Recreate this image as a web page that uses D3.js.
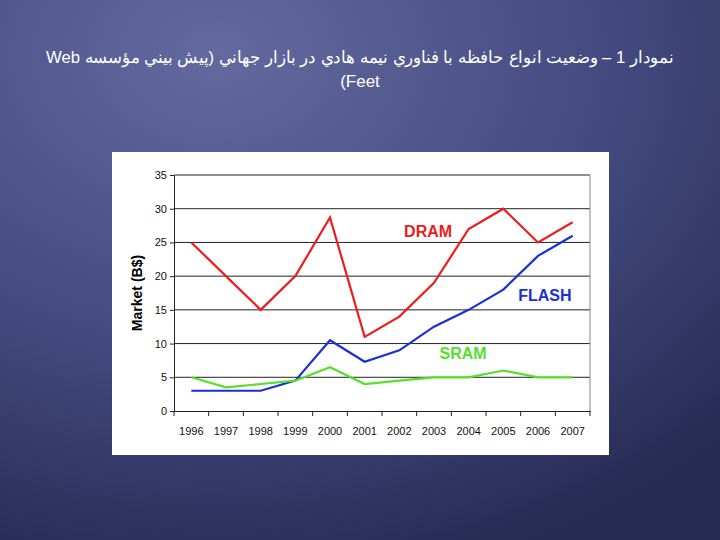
<!DOCTYPE html>
<html><head><meta charset="utf-8">
<script src="https://cdn.jsdelivr.net/npm/d3@7"></script>
<style>body{margin:0;}svg{display:block;}</style>
</head><body>
<svg id="c" width="720" height="540"></svg>
<script>
const years = ["1996","1997","1998","1999","2000","2001","2002","2003","2004","2005","2006","2007"];
const dram  = [25,20,15,20,28.7,11,14,19,27,30,25,28];
const flash = [3,3,3,4.5,10.5,7.3,9,12.5,15,18,23,26];
const sram  = [5,3.5,4,4.5,6.5,4,4.5,5,5,6,5,5];
const yTicks = [0,5,10,15,20,25,30,35];
const titleLines = ["نمودار 1 – وضعيت انواع حافظه با فناوري نيمه هادي در بازار جهاني (پيش بيني مؤسسه Web","Feet)"];
const seriesNames = ["DRAM","FLASH","SRAM"];
const seriesColors = ["#ee1c1c","#1a2fd6","#55e02a"];
const labelAt = [[7.33,25.8],[10.7,16.3],[8.34,7.7]]; // [band index, value] where series labels sit

const svg = d3.select("#c");
const defs = svg.append("defs");
const g = defs.append("radialGradient").attr("id","bg").attr("cx","30%").attr("cy","10%").attr("r","100%");
g.append("stop").attr("offset","0%").attr("stop-color","#646aa0");
g.append("stop").attr("offset","55%").attr("stop-color","#444a80");
g.append("stop").attr("offset","100%").attr("stop-color","#272a52");
svg.append("rect").attr("width",720).attr("height",540).attr("fill","url(#bg)");

svg.append("g").selectAll("text").data(titleLines).join("text")
  .attr("x",360).attr("y",(d,i)=>63+i*24).attr("text-anchor","middle").attr("direction","rtl")
  .attr("fill","#fff").attr("font-family","Liberation Sans, Arial, sans-serif").attr("font-size",17)
  .attr("textLength",(d,i)=>i===0?628:null).attr("lengthAdjust","spacingAndGlyphs")
  .text(d=>d);

svg.append("rect").attr("x",112).attr("y",152).attr("width",497).attr("height",303).attr("fill","#fff");

const L=174,R=590,T=175,B=411;
const x = d3.scaleBand().domain(years).range([L,R]);
const y = d3.scaleLinear().domain([0,35]).range([B,T]);
const xc = i => x(years[i]) + x.bandwidth()/2;

svg.append("g").selectAll("line").data(yTicks.slice(1)).join("line")
  .attr("x1",L).attr("x2",R).attr("y1",d=>y(d)).attr("y2",d=>y(d)).attr("stroke","#222").attr("stroke-width",1);
svg.append("line").attr("x1",R).attr("x2",R).attr("y1",T).attr("y2",B).attr("stroke","#888");

const ya = svg.append("g").attr("transform",`translate(${L},0)`).call(d3.axisLeft(y).tickValues(yTicks).tickSize(4).tickSizeOuter(0));
const xa = svg.append("g").attr("transform",`translate(0,${B})`).call(d3.axisBottom(x).tickSize(0));
xa.selectAll(".tick line").remove();
xa.append("g").selectAll("line").data(d3.range(years.length+1)).join("line")
  .attr("x1",i=>L+i*x.bandwidth()).attr("x2",i=>L+i*x.bandwidth()).attr("y1",0).attr("y2",5).attr("stroke","#222");
[ya,xa].forEach(a=>{a.selectAll("path,line").attr("stroke","#222");
  a.selectAll("text").attr("font-family","Liberation Sans, Arial, sans-serif").attr("font-size",11).attr("fill","#111");});
xa.selectAll(".tick text").attr("dy","1.9em");

svg.append("text").attr("transform","translate(142,293) rotate(-90)").attr("text-anchor","middle")
  .attr("font-family","Liberation Sans, Arial, sans-serif").attr("font-weight","bold").attr("font-size",14).text("Market (B$)");

const line = d3.line().x((d,i)=>xc(i)).y(d=>y(d));
[dram,flash,sram].forEach((s,k)=>{
  svg.append("path").datum(s).attr("d",line).attr("fill","none").attr("stroke",seriesColors[k]).attr("stroke-width",2.2);
  svg.append("text").attr("x",x(years[0])+labelAt[k][0]*x.bandwidth()).attr("y",y(labelAt[k][1]))
    .attr("text-anchor","middle").attr("fill",seriesColors[k]).attr("font-family","Liberation Sans, Arial, sans-serif")
    .attr("font-weight","bold").attr("font-size",16).text(seriesNames[k]);
});
</script>
</body></html>
